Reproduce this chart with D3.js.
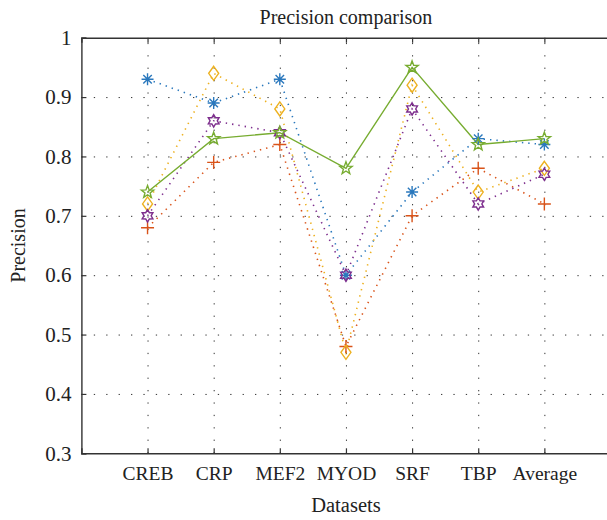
<!DOCTYPE html>
<html lang="en">
  <head>
    <meta charset="utf-8">
    <title>Precision comparison</title>
    <script src="https://d3js.org/d3.v7.js"></script>
    <style>
      body {
        margin: 0;
        background: white;
      }
      text {
        font-family: "Liberation Serif", "DejaVu Serif", serif;
        fill: #222;
      }
    </style>
  </head>
  <body>
    <script type="text/javascript">

      // data
      const datasets = ["CREB", "CRP", "MEF2", "MYOD", "SRF", "TBP", "Average"];
      const yTicks = [0.3, 0.4, 0.5, 0.6, 0.7, 0.8, 0.9, 1];

      const blueStar   = [0.93, 0.89, 0.93, 0.60, 0.74, 0.83, 0.82];
      const redPlus    = [0.68, 0.79, 0.82, 0.48, 0.70, 0.78, 0.72];
      const yellowDiam = [0.72, 0.94, 0.88, 0.47, 0.92, 0.74, 0.78];
      const purpleHex  = [0.70, 0.86, 0.84, 0.60, 0.88, 0.72, 0.77];
      const greenPent  = [0.74, 0.83, 0.84, 0.78, 0.95, 0.82, 0.83];

      const series = [
        {values: blueStar,   color: "#2a78bd", marker: "asterisk", dash: "1.4,5"},
        {values: redPlus,    color: "#d95319", marker: "plus",     dash: "1.4,5"},
        {values: yellowDiam, color: "#edb120", marker: "diamond",  dash: "1.4,5"},
        {values: purpleHex,  color: "#7e2f8e", marker: "hexagram", dash: "1.4,5"},
        {values: greenPent,  color: "#77ac30", marker: "pentagram", dash: null}
      ];

      // sizes
      const w = 607;
      const h = 520;
      const margin = {top: 37.7, left: 81.4, bottom: 66.7};
      const plotRight = 610.5;
      const plotBottom = h - margin.bottom;

      const xScale = d3.scaleLinear()
        .domain([0, 8])
        .range([margin.left, plotRight]);

      const yScale = d3.scaleLinear()
        .domain([0.3, 1])
        .range([plotBottom, margin.top]);

      const svg = d3.select("body")
        .append("svg")
        .attr("width", w)
        .attr("height", h);

      const innerW = plotRight - margin.left;
      const innerH = plotBottom - margin.top;
      const xIdx = d3.range(1, datasets.length + 1);

      // grid
      svg.append("g")
        .attr("class", "grid")
        .attr("transform", `translate(0, ${plotBottom})`)
        .call(d3.axisBottom(xScale).tickValues(xIdx).tickSize(-innerH).tickFormat(""))
        .call(g => g.select(".domain").remove());

      svg.append("g")
        .attr("class", "grid")
        .attr("transform", `translate(${margin.left}, 0)`)
        .call(d3.axisLeft(yScale).tickValues(yTicks.slice(1, -1)).tickSize(-innerW).tickFormat(""))
        .call(g => g.select(".domain").remove());

      svg.selectAll(".grid line")
        .attr("stroke", "#333")
        .attr("stroke-width", 1)
        .attr("stroke-dasharray", "1.3,11.1");

      // marker shapes
      function markerPath(type) {
        const p = d3.path();
        if (type == "asterisk") {
          const r = 6;
          for (let i = 0; i < 4; i++) {
            const a = i * Math.PI / 4;
            p.moveTo(-r * Math.cos(a), -r * Math.sin(a));
            p.lineTo(r * Math.cos(a), r * Math.sin(a));
          }
        } else if (type == "plus") {
          const r = 6.5;
          p.moveTo(-r, 0); p.lineTo(r, 0);
          p.moveTo(0, -r); p.lineTo(0, r);
        } else if (type == "diamond") {
          p.moveTo(0, -7); p.lineTo(5, 0); p.lineTo(0, 7); p.lineTo(-5, 0); p.closePath();
        } else if (type == "hexagram") {
          const ro = 6.2, ri = 3.6;
          for (let i = 0; i < 12; i++) {
            const r = i % 2 == 0 ? ro : ri;
            const a = -Math.PI / 2 + i * Math.PI / 6;
            if (i == 0) p.moveTo(r * Math.cos(a), r * Math.sin(a));
            else p.lineTo(r * Math.cos(a), r * Math.sin(a));
          }
          p.closePath();
        } else if (type == "pentagram") {
          const ro = 6.5, ri = 2.7;
          for (let i = 0; i < 10; i++) {
            const r = i % 2 == 0 ? ro : ri;
            const a = -Math.PI / 2 + i * Math.PI / 5;
            if (i == 0) p.moveTo(r * Math.cos(a), r * Math.sin(a));
            else p.lineTo(r * Math.cos(a), r * Math.sin(a));
          }
          p.closePath();
        }
        return p.toString();
      }

      const line = d3.line()
        .x((d, i) => xScale(i + 1))
        .y(d => yScale(d));

      // lines
      series.forEach(s => {
        svg.append("path")
          .datum(s.values)
          .attr("d", line)
          .attr("fill", "none")
          .attr("stroke", s.color)
          .attr("stroke-width", s.dash ? 1.6 : 1.4)
          .attr("stroke-dasharray", s.dash);
      });

      // markers
      series.forEach(s => {
        svg.append("g")
          .selectAll("path")
          .data(s.values)
          .enter()
          .append("path")
          .attr("transform", (d, i) => `translate(${xScale(i + 1)}, ${yScale(d)})`)
          .attr("d", markerPath(s.marker))
          .attr("fill", "none")
          .attr("stroke", s.color)
          .attr("stroke-width", 1.4);
      });

      // axes
      const xAxis = d3.axisBottom(xScale)
        .tickValues(xIdx)
        .tickSize(-5)
        .tickPadding(13)
        .tickFormat(i => datasets[i - 1]);

      const yAxis = d3.axisLeft(yScale)
        .tickValues(yTicks)
        .tickSize(-5)
        .tickPadding(10)
        .tickFormat(d3.format("~g"));

      svg.append("g")
        .attr("id", "xaxis")
        .attr("transform", `translate(0, ${plotBottom})`)
        .call(xAxis);

      svg.append("g")
        .attr("id", "xaxis-top")
        .attr("transform", `translate(0, ${margin.top})`)
        .call(d3.axisTop(xScale).tickValues(xIdx).tickSize(-5).tickFormat(""));

      svg.append("g")
        .attr("id", "yaxis")
        .attr("transform", `translate(${margin.left}, 0)`)
        .call(yAxis);

      svg.selectAll("#xaxis path, #yaxis path, #xaxis-top path")
        .attr("stroke", "#333")
        .attr("stroke-width", 1.4);
      svg.selectAll("#xaxis line, #yaxis line, #xaxis-top line")
        .attr("stroke", "#333")
        .attr("stroke-width", 1.2);
      svg.selectAll("#xaxis text")
        .attr("font-size", 19.5)
        .attr("font-family", "Liberation Serif")
        .attr("fill", "#222");
      svg.selectAll("#yaxis text")
        .attr("font-size", 21)
        .attr("font-family", "Liberation Serif")
        .attr("fill", "#222");

      // right edge of box (outside the window, kept for completeness)
      svg.append("line")
        .attr("x1", plotRight).attr("x2", plotRight)
        .attr("y1", margin.top).attr("y2", plotBottom)
        .attr("stroke", "#333")
        .attr("stroke-width", 1.4);

      // labels
      svg.append("text")
        .attr("x", (margin.left + plotRight) / 2)
        .attr("y", 24)
        .attr("text-anchor", "middle")
        .attr("font-size", 20)
        .text("Precision comparison");

      svg.append("text")
        .attr("x", (margin.left + plotRight) / 2)
        .attr("y", 512)
        .attr("text-anchor", "middle")
        .attr("font-size", 20.5)
        .text("Datasets");

      svg.append("text")
        .attr("transform", `translate(25, ${(margin.top + plotBottom) / 2}) rotate(-90)`)
        .attr("text-anchor", "middle")
        .attr("font-size", 20)
        .text("Precision");

    </script>
  </body>
</html>
